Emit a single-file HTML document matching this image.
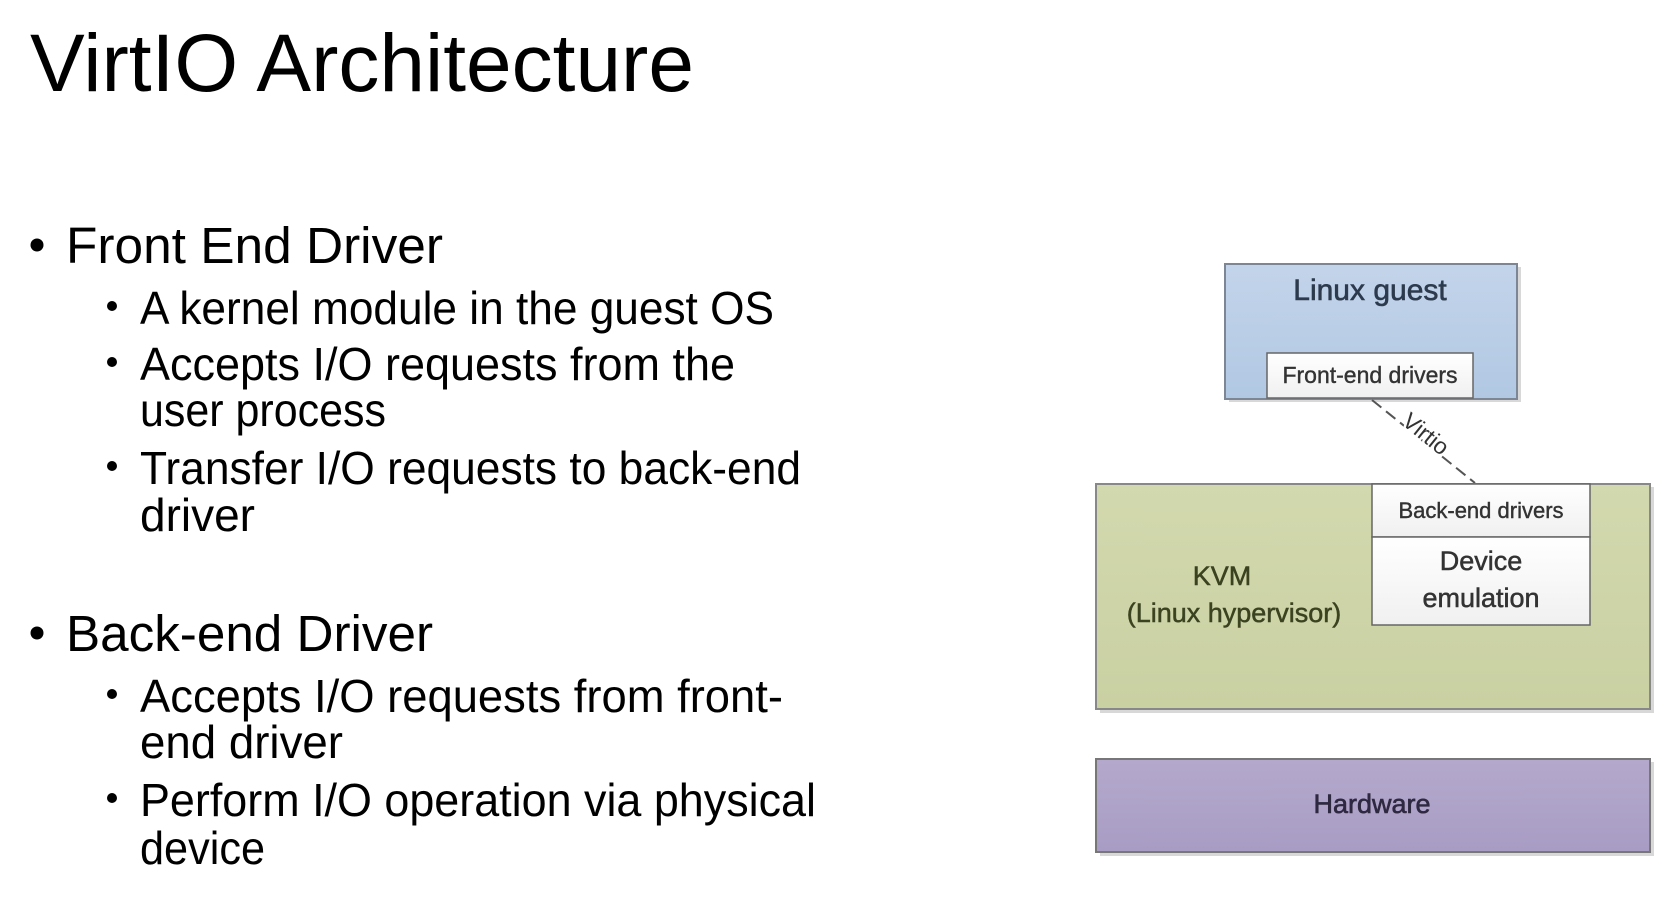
<!DOCTYPE html>
<html><head><meta charset="utf-8"><style>
html,body{margin:0;padding:0;background:#fff;}
svg{display:block;}
</style></head><body>
<svg width="1680" height="904" viewBox="0 0 1680 904" xmlns="http://www.w3.org/2000/svg">
<defs>
<linearGradient id="gb" x1="0" y1="0" x2="0" y2="1"><stop offset="0" stop-color="#c3d4ea"/><stop offset="1" stop-color="#b1c8e3"/></linearGradient>
<linearGradient id="gg" x1="0" y1="0" x2="0" y2="1"><stop offset="0" stop-color="#d3d9ae"/><stop offset="1" stop-color="#c9d0a2"/></linearGradient>
<linearGradient id="gp" x1="0" y1="0" x2="0" y2="1"><stop offset="0" stop-color="#b4a9cc"/><stop offset="1" stop-color="#a89cc4"/></linearGradient>
<linearGradient id="gw" x1="0" y1="0" x2="0" y2="1"><stop offset="0" stop-color="#ffffff"/><stop offset="1" stop-color="#f0f0f0"/></linearGradient>
</defs>
<g font-family="Liberation Sans, sans-serif" fill="#000">
<text x="30" y="91" font-size="82" textLength="664" lengthAdjust="spacingAndGlyphs">VirtIO Architecture</text>
<circle cx="37" cy="245" r="6.5"/>
<text x="66" y="263" font-size="51" textLength="377" lengthAdjust="spacingAndGlyphs">Front End Driver</text>
<circle cx="112" cy="306" r="5"/>
<text x="140" y="324" font-size="46" textLength="634" lengthAdjust="spacingAndGlyphs">A kernel module in the guest OS</text>
<circle cx="112" cy="362" r="5"/>
<text x="140" y="380" font-size="46" textLength="595" lengthAdjust="spacingAndGlyphs">Accepts I/O requests from the</text>
<text x="140" y="426" font-size="46" textLength="246" lengthAdjust="spacingAndGlyphs">user process</text>
<circle cx="112" cy="466" r="5"/>
<text x="140" y="484" font-size="46" textLength="661" lengthAdjust="spacingAndGlyphs">Transfer I/O requests to back-end</text>
<text x="140" y="531" font-size="46" textLength="115" lengthAdjust="spacingAndGlyphs">driver</text>
<circle cx="37" cy="633" r="6.5"/>
<text x="66" y="651" font-size="51" textLength="367" lengthAdjust="spacingAndGlyphs">Back-end Driver</text>
<circle cx="112" cy="694" r="5"/>
<text x="140" y="712" font-size="46" textLength="643" lengthAdjust="spacingAndGlyphs">Accepts I/O requests from front-</text>
<text x="140" y="758" font-size="46" textLength="203" lengthAdjust="spacingAndGlyphs">end driver</text>
<circle cx="112" cy="798" r="5"/>
<text x="140" y="816" font-size="46" textLength="676" lengthAdjust="spacingAndGlyphs">Perform I/O operation via physical</text>
<text x="140" y="864" font-size="46" textLength="125" lengthAdjust="spacingAndGlyphs">device</text>
</g>
<!-- diagram -->
<g font-family="Liberation Sans, sans-serif" text-anchor="middle">
<rect x="1229" y="267" width="292" height="135" fill="#d8d8d8"/>
<rect x="1225" y="264" width="292" height="135" fill="url(#gb)" stroke="#7d8694" stroke-width="2"/>
<text x="1370" y="300" font-size="30" fill="#2d3a4d" stroke="#2d3a4d" stroke-width="0.6">Linux guest</text>
<rect x="1267" y="353" width="206" height="45" fill="url(#gw)" stroke="#666" stroke-width="1.5"/>
<text x="1370" y="383" font-size="23" fill="#333" stroke="#333" stroke-width="0.4">Front-end drivers</text>
<line x1="1372" y1="400" x2="1475" y2="483" stroke="#555" stroke-width="2" stroke-dasharray="12,6"/>
<text transform="translate(1421,440) rotate(39)" font-size="23" fill="#333" stroke="#fff" stroke-width="5" paint-order="stroke">Virtio</text>
<rect x="1100" y="487" width="554" height="226" fill="#d8d8d8"/>
<rect x="1096" y="484" width="554" height="225" fill="url(#gg)" stroke="#888" stroke-width="2"/>
<text x="1222" y="585" font-size="27" fill="#3a4220" stroke="#3a4220" stroke-width="0.5">KVM</text>
<text x="1234" y="622" font-size="27" fill="#3a4220" stroke="#3a4220" stroke-width="0.5">(Linux hypervisor)</text>
<rect x="1372" y="484" width="218" height="53" fill="url(#gw)" stroke="#666" stroke-width="1.5"/>
<text x="1481" y="518" font-size="22" fill="#333" stroke="#333" stroke-width="0.4">Back-end drivers</text>
<rect x="1372" y="537" width="218" height="88" fill="url(#gw)" stroke="#666" stroke-width="1.5"/>
<text x="1481" y="570" font-size="27" fill="#333" stroke="#333" stroke-width="0.5">Device</text>
<text x="1481" y="607" font-size="27" fill="#333" stroke="#333" stroke-width="0.5">emulation</text>
<rect x="1100" y="762" width="554" height="94" fill="#d8d8d8"/>
<rect x="1096" y="759" width="554" height="93" fill="url(#gp)" stroke="#777" stroke-width="2"/>
<text x="1372" y="813" font-size="27" fill="#2e2840" stroke="#2e2840" stroke-width="0.6">Hardware</text>
</g>
</svg>
</body></html>
